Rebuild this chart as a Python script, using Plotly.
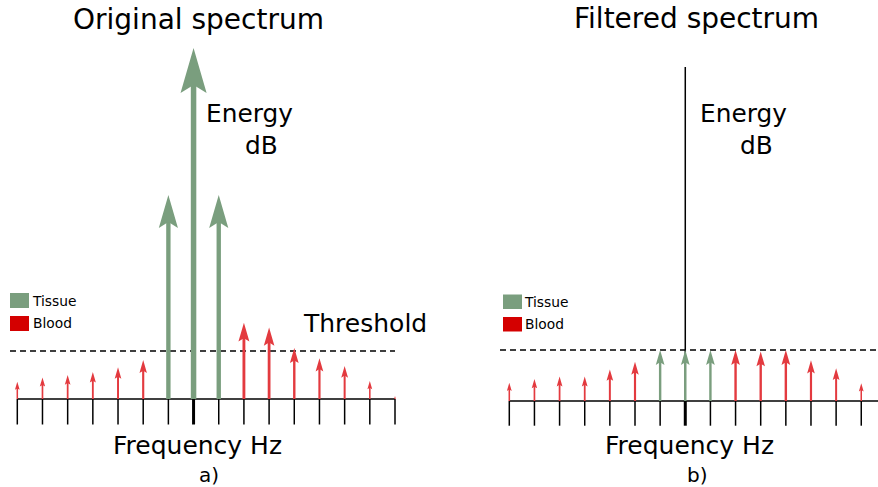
import plotly.graph_objects as go

W, H = 878, 487

# ---------------- data ----------------
freq_bins_orig = list(range(16))
freq_bins_filt = list(range(15))
center_bin = 7
blood_bins_orig = [0, 1, 2, 3, 4, 5, 9, 10, 11, 12, 13, 14, 15]
blood_energy_orig = [0.36, 0.45, 0.50, 0.56, 0.66, 0.81, 1.59, 1.49, 1.06, 0.85, 0.69, 0.375, 0.06]
tissue_bins_orig = [6, 7, 8]
tissue_energy_orig = [4.25, 7.31, 4.25]
blood_bins_filt = [0, 1, 2, 3, 4, 5, 9, 10, 11, 12, 13, 14]
blood_energy_filt = [0.36, 0.43, 0.48, 0.48, 0.62, 0.77, 1.0, 0.97, 1.0, 0.80, 0.64, 0.35]
tissue_bins_filt = [6, 7, 8]
tissue_energy_filt = [1.0, 1.0, 1.0]
threshold = 1.0
energy_axis_top = 6.55

# ---------------- styling ----------------
GREEN = "#7a9e7e"
RED = "#e33a3f"
LEGEND_RED = "#d40000"
FONT = "DejaVu Sans"

panels = {
    "left": dict(xa="x", ya="y", domain=[0.0, 0.5], bin0=17.3, ppb=25.18, base=399.0, ppu=48.0,
                 tick_len=25.5, thr_from=-0.29, thr_to=15.0, base_to=15.0),
    "right": dict(xa="x2", ya="y2", domain=[0.5, 1.0], bin0=509.3, ppb=25.14, base=401.0, ppu=51.0,
                  tick_len=24.7, thr_from=-0.37, thr_to=16.0, base_to=16.0),
}

fig = go.Figure()


def line(p, xs, ys, color="black", width=1.5, dash=None):
    fig.add_trace(go.Scatter(x=xs, y=ys, xaxis=p["xa"], yaxis=p["ya"], mode="lines",
                             line=dict(color=color, width=width, dash=dash),
                             hoverinfo="skip", showlegend=False))


def arrows(p, bins, energies, color):
    hx, hy = [], []
    for b, e in zip(bins, energies):
        h = e * p["ppu"]
        L = 1.61 * h ** 0.568
        if L > 0.95 * h:
            L = 0.95 * h
        wd = 0.58 * L
        lw = max(0.45 * h ** 0.427, 1.0)
        line(p, [b, b], [0, e - 0.7 * L / p["ppu"]], color=color, width=lw)
        hx += [b, b - wd / 2 / p["ppb"], b, b + wd / 2 / p["ppb"], b, None]
        hy += [e, e - L / p["ppu"], e - 0.82 * L / p["ppu"], e - L / p["ppu"], e, None]
    fig.add_trace(go.Scatter(x=hx, y=hy, xaxis=p["xa"], yaxis=p["ya"], mode="lines",
                             fill="toself", fillcolor=color, line=dict(width=0, color=color),
                             hoverinfo="skip", showlegend=False))


def panel(p, bins, blood_b, blood_e, tissue_b, tissue_e, vaxis):
    # threshold
    line(p, [p["thr_from"], p["thr_to"]], [threshold, threshold], width=1.5, dash="6px,4px")
    # baseline
    line(p, [bins[0], p["base_to"]], [0, 0], width=1.5)
    # ticks
    tl = p["tick_len"] / p["ppu"]
    for b in bins:
        line(p, [b, b], [0, -tl], width=3 if b == center_bin else 1.5)
    if vaxis:
        line(p, [center_bin, center_bin], [0, energy_axis_top], width=1.5)
    arrows(p, blood_b, blood_e, RED)
    arrows(p, tissue_b, tissue_e, GREEN)


panel(panels["left"], freq_bins_orig, blood_bins_orig, blood_energy_orig,
      tissue_bins_orig, tissue_energy_orig, False)
panel(panels["right"], freq_bins_filt, blood_bins_filt, blood_energy_filt,
      tissue_bins_filt, tissue_energy_filt, True)

layout_axes = {}
for name, p in panels.items():
    d0, d1 = p["domain"][0] * W, p["domain"][1] * W
    xr = [(d0 - p["bin0"]) / p["ppb"], (d1 - p["bin0"]) / p["ppb"]]
    yr = [(p["base"] - H) / p["ppu"], p["base"] / p["ppu"]]
    xk = "xaxis" if p["xa"] == "x" else "xaxis2"
    yk = "yaxis" if p["ya"] == "y" else "yaxis2"
    layout_axes[xk] = dict(domain=p["domain"], range=xr, visible=False, anchor=p["ya"], fixedrange=True)
    layout_axes[yk] = dict(domain=[0, 1], range=yr, visible=False, anchor=p["xa"], fixedrange=True)

annotations = []


def txt(s, px, py, size, anchor="center"):
    annotations.append(dict(text=s, x=px / W, y=1 - py / H, xref="paper", yref="paper",
                            xanchor=anchor, yanchor="middle", showarrow=False,
                            font=dict(family=FONT, size=size, color="black")))


txt("Original spectrum", 198, 20, 28)
txt("Filtered spectrum", 696, 19, 28)
txt("Energy", 249, 113, 24.8)
txt("dB", 261, 145, 24.8)
txt("Energy", 743.5, 113, 24.8)
txt("dB", 756, 145, 24.8)
txt("Threshold", 365, 323, 25)
txt("Frequency Hz", 197, 445, 25)
txt("Frequency Hz", 689, 445, 25)
txt("a)", 209, 475, 20)
txt("b)", 697, 475, 20)
txt("Tissue", 29.5, 301, 13.8, "left")
txt("Blood", 30.5, 323, 13.8, "left")
txt("Tissue", 522, 301.5, 13.8, "left")
txt("Blood", 523, 324, 13.8, "left")

shapes = []


def sq(x0, y0, x1, y1, color):
    shapes.append(dict(type="rect", xref="paper", yref="paper", x0=x0 / W, x1=x1 / W,
                       y0=1 - y1 / H, y1=1 - y0 / H, fillcolor=color, line=dict(width=0)))


sq(10, 293, 29, 308, GREEN)
sq(10, 316, 29, 331, LEGEND_RED)
sq(503, 294.5, 522, 309, GREEN)
sq(503, 317, 522, 331.5, LEGEND_RED)

fig.update_layout(width=W, height=H, margin=dict(l=0, r=0, t=0, b=0),
                  paper_bgcolor="white", plot_bgcolor="white", showlegend=False,
                  annotations=annotations, shapes=shapes, **layout_axes)

fig.write_html("out.html")
